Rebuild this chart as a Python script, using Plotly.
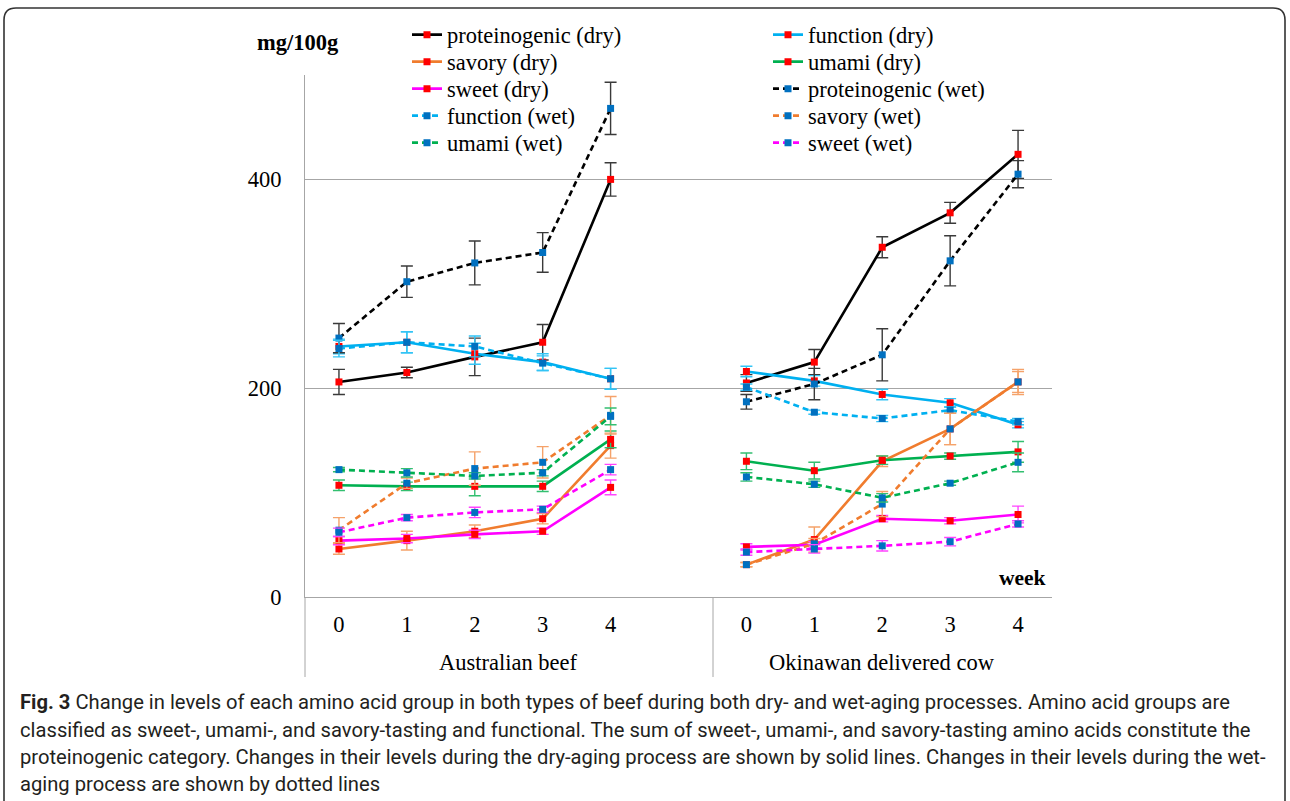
import plotly.graph_objects as go

# ---------------- data ----------------
weeks = ["0", "1", "2", "3", "4"]
groups = ["Australian beef", "Okinawan delivered cow"]

# values: Australian weeks 0-4, Okinawan weeks 0-4
prot_dry_A = [206, 215, 230, 244, 400]
prot_dry_O = [205, 225, 335, 368, 424]
prot_wet_A = [248, 302, 320, 330, 468]
prot_wet_O = [187, 204, 232, 322, 405]
func_dry_A = [240, 244, 233, 225, 209]
func_dry_O = [216, 207, 194, 186, 165]
func_wet_A = [238, 244, 240, 224, 209]
func_wet_O = [201, 177, 171, 179, 168]
sav_dry_A = [46, 54, 63, 75, 145]
sav_dry_O = [31, 55, 130, 161, 206]
sav_wet_A = [64, 109, 123, 129, 174]
sav_wet_O = [31, 51, 89, 161, 206]
uma_dry_A = [107, 106, 106, 106, 151]
uma_dry_O = [130, 121, 131, 135, 139]
uma_wet_A = [122, 119, 116, 119, 173]
uma_wet_O = [115, 108, 95, 109, 129]
swe_dry_A = [54, 56, 60, 63, 105]
swe_dry_O = [48, 50, 75, 73, 79]
swe_wet_A = [62, 76, 81, 84, 122]
swe_wet_O = [43, 46, 49, 53, 70]

# error bars (+/-)
prot_dry_eA = [12, 5, 18, 17, 16]
prot_dry_eO = [8, 12, 10, 10, 23]
prot_wet_eA = [14, 15, 21, 19, 25]
prot_wet_eO = [7, 15, 25, 24, 13]
func_dry_eA = [7, 10, 10, 8, 10]
func_dry_eO = [5, 5, 5, 4, 3]
func_wet_eA = [8, 10, 10, 7, 10]
func_wet_eO = [3, 2, 3, 3, 3]
sav_dry_eA = [5, 9, 6, 5, 12]
sav_dry_eO = [2, 12, 5, 15, 10]
sav_wet_eA = [12, 5, 16, 15, 18]
sav_wet_eO = [2, 5, 12, 15, 12]
uma_dry_eA = [5, 4, 9, 5, 8]
uma_dry_eO = [8, 8, 4, 3, 10]
uma_wet_eA = [2, 4, 3, 3, 8]
uma_wet_eO = [4, 3, 4, 2, 9]
swe_dry_eA = [4, 4, 4, 3, 7]
swe_dry_eO = [3, 3, 3, 3, 8]
swe_wet_eA = [4, 3, 5, 3, 5]
swe_wet_eO = [3, 4, 5, 4, 3]

y_ticks = [0, 200, 400]

caption_lines = [
    "<b>Fig. 3</b> Change in levels of each amino acid group in both types of beef during both dry- and wet-aging processes. Amino acid groups are",
    "classified as sweet-, umami-, and savory-tasting and functional. The sum of sweet-, umami-, and savory-tasting amino acids constitute the",
    "proteinogenic category. Changes in their levels during the dry-aging process are shown by solid lines. Changes in their levels during the wet-",
    "aging process are shown by dotted lines",
]

# ---------------- layout geometry ----------------
W, H = 1290, 801
L, R, T, B = 305, 1052, 75, 597
PW, PH = R - L, B - T


def px(x):
    return (x - L) / PW


def py(y):
    return (B - y) / PH


# x positions: 11 slots, slot 5 is the gap between groups
xpos = list(range(11))


def join(a, o):
    return list(a) + [None] + list(o)


def joine(a, o):
    return list(a) + [0] + list(o)


SERIF = "Liberation Serif, Times New Roman, serif"
FS = 22.5
RED = "#ff0000"
BLUE = "#0070c0"

# legend slot: (column x of text, row center y)
COLX = [447, 808]
ROWY = [35, 62, 89, 116, 143]

series = [
    # name, A, O, eA, eO, color, errcolor, dash, marker, (col,row)
    ("proteinogenic (dry)", prot_dry_A, prot_dry_O, prot_dry_eA, prot_dry_eO, "#000000", "#3a3a3a", "solid", RED, (0, 0)),
    ("function (dry)", func_dry_A, func_dry_O, func_dry_eA, func_dry_eO, "#00b0f0", "#33c4f5", "solid", RED, (1, 0)),
    ("savory (dry)", sav_dry_A, sav_dry_O, sav_dry_eA, sav_dry_eO, "#f07c2e", "#f5a26a", "solid", RED, (0, 1)),
    ("umami (dry)", uma_dry_A, uma_dry_O, uma_dry_eA, uma_dry_eO, "#00b050", "#33bf70", "solid", RED, (1, 1)),
    ("sweet (dry)", swe_dry_A, swe_dry_O, swe_dry_eA, swe_dry_eO, "#ff00ff", "#ff44ff", "solid", RED, (0, 2)),
    ("proteinogenic (wet)", prot_wet_A, prot_wet_O, prot_wet_eA, prot_wet_eO, "#000000", "#3a3a3a", "dash", BLUE, (1, 2)),
    ("function (wet)", func_wet_A, func_wet_O, func_wet_eA, func_wet_eO, "#00b0f0", "#33c4f5", "dash", BLUE, (0, 3)),
    ("savory (wet)", sav_wet_A, sav_wet_O, sav_wet_eA, sav_wet_eO, "#f07c2e", "#f5a26a", "dash", BLUE, (1, 3)),
    ("umami (wet)", uma_wet_A, uma_wet_O, uma_wet_eA, uma_wet_eO, "#00b050", "#33bf70", "dash", BLUE, (0, 4)),
    ("sweet (wet)", swe_wet_A, swe_wet_O, swe_wet_eA, swe_wet_eO, "#ff00ff", "#ff44ff", "dash", BLUE, (1, 4)),
]

fig = go.Figure()
legends = {}
for i, (name, a, o, ea, eo, col, ecol, dash, mcol, (c, rr)) in enumerate(series):
    lname = "legend" if i == 0 else f"legend{i + 1}"
    legends[lname] = dict(
        x=px(COLX[c] - 40), y=py(ROWY[rr]), xanchor="left", yanchor="middle",
        font=dict(family=SERIF, size=FS, color="#000000"), bgcolor="rgba(0,0,0,0)",
        itemwidth=30, itemclick=False, itemdoubleclick=False,
    )
    fig.add_trace(go.Scatter(
        x=xpos, y=join(a, o), name=name, mode="lines+markers",
        connectgaps=False,
        line=dict(color=col, width=2.6, dash="solid" if dash == "solid" else "6px,4px"),
        marker=dict(symbol="square", size=7, color=mcol, line=dict(width=0)),
        error_y=dict(type="data", array=joine(ea, eo), visible=True,
                     color=ecol, thickness=1.4, width=6),
        legend=lname,
    ))

tickvals = [0, 1, 2, 3, 4, 6, 7, 8, 9, 10]
ticktext = weeks + weeks

fig.update_xaxes(
    range=[-0.5, 10.5], tickmode="array", tickvals=tickvals, ticktext=ticktext,
    showgrid=False, zeroline=False, showline=True, linecolor="#a6a6a6", linewidth=1,
    ticks="", ticklabelstandoff=7, tickfont=dict(family=SERIF, size=FS, color="#000000"),
    fixedrange=True,
)
fig.update_yaxes(
    range=[0, 500], tickmode="array", tickvals=y_ticks,
    showgrid=True, gridcolor="#a6a6a6", gridwidth=1, zeroline=False,
    showline=True, linecolor="#a6a6a6", linewidth=1,
    ticks="", ticklabelstandoff=18, tickfont=dict(family=SERIF, size=FS, color="#000000"),
    fixedrange=True,
)

shapes = []
# axis extensions into category area
shapes.append(dict(type="line", xref="paper", yref="paper", x0=px(305), x1=px(305), y0=py(597), y1=py(677),
                   line=dict(color="#a6a6a6", width=1)))
shapes.append(dict(type="line", xref="paper", yref="paper", x0=px(713), x1=px(713), y0=py(597), y1=py(677),
                   line=dict(color="#a6a6a6", width=1)))
# rounded figure border
bx0, bx1, by0, by1, r = 4, 1285, 8, 812, 12
path = (f"M {px(bx0)},{py(by1)} L {px(bx0)},{py(by0 + r)} Q {px(bx0)},{py(by0)} {px(bx0 + r)},{py(by0)} "
        f"L {px(bx1 - r)},{py(by0)} Q {px(bx1)},{py(by0)} {px(bx1)},{py(by0 + r)} L {px(bx1)},{py(by1)}")
shapes.append(dict(type="path", xref="paper", yref="paper", path=path,
                   line=dict(color="#333333", width=1.6)))

annotations = [
    dict(text="<b>mg/100g</b>", x=px(255), y=py(43), xref="paper", yref="paper", showarrow=False,
         font=dict(family=SERIF, size=FS, color="#000000"), xanchor="left", yanchor="middle"),
    dict(text="<b>week</b>", x=px(1048), y=py(578), xref="paper", yref="paper", showarrow=False,
         font=dict(family=SERIF, size=21.5, color="#000000"), xanchor="right", yanchor="middle"),
    dict(text=groups[0], x=2.5, y=py(662), xref="x", yref="paper", showarrow=False,
         font=dict(family=SERIF, size=FS, color="#000000"), xanchor="center", yanchor="middle"),
    dict(text=groups[1], x=8, y=py(662), xref="x", yref="paper", showarrow=False,
         font=dict(family=SERIF, size=FS, color="#000000"), xanchor="center", yanchor="middle"),
]
cap_y = [702, 730, 757, 784]
for t, yy in zip(caption_lines, cap_y):
    annotations.append(dict(text=t, x=px(18), y=py(yy), xref="paper", yref="paper", showarrow=False,
                            font=dict(family="Roboto, sans-serif", size=20.2, color="#231f20"),
                            xanchor="left", yanchor="middle", align="left"))

fig.update_layout(
    width=W, height=H,
    margin=dict(l=L, r=W - R, t=T, b=H - B),
    paper_bgcolor="#ffffff", plot_bgcolor="#ffffff",
    shapes=shapes, annotations=annotations,
    showlegend=True,
    **legends,
)

fig.write_html("out.html", config={"displayModeBar": False},
               post_script="document.body.style.margin='0px';")
